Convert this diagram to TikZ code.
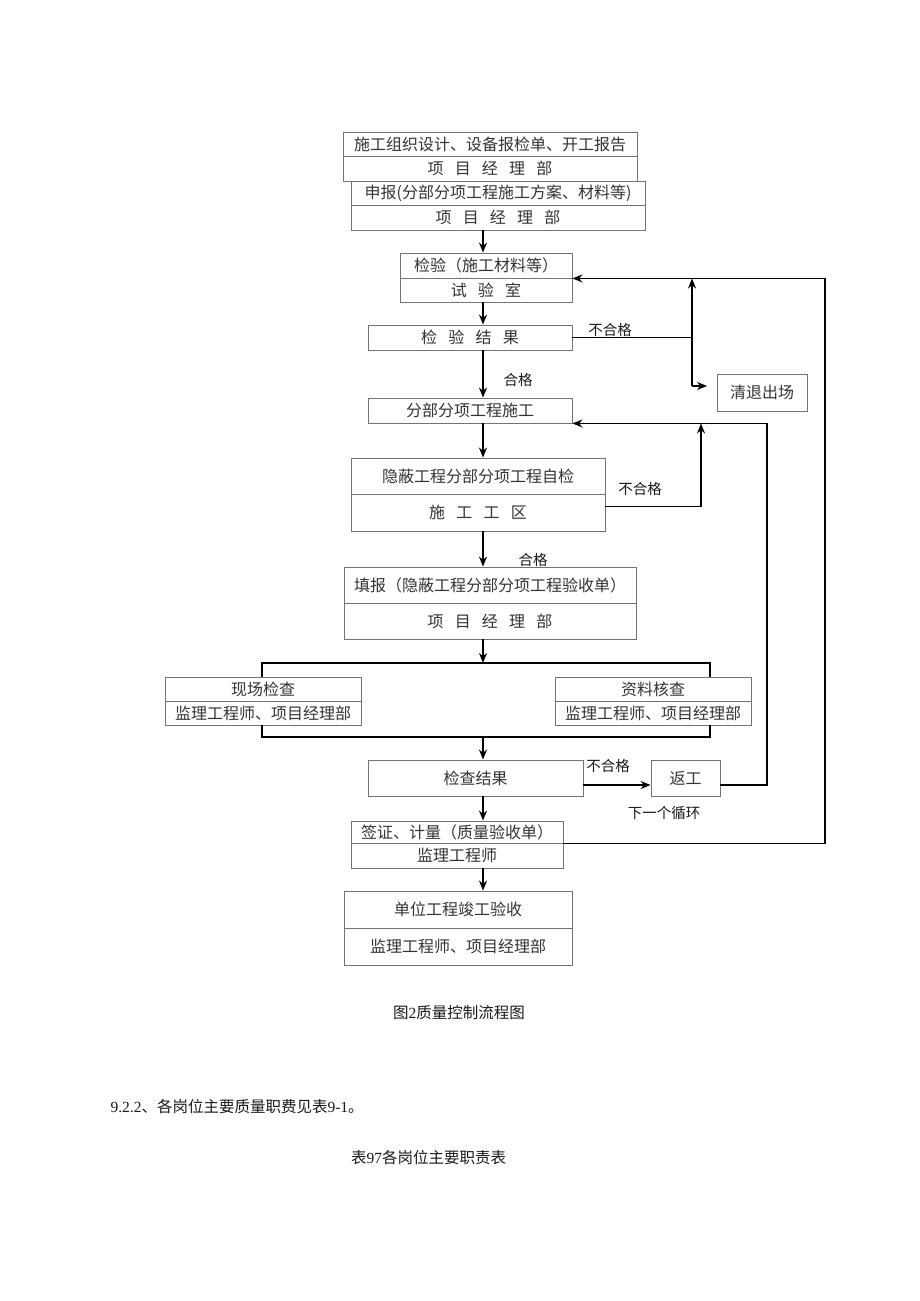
\documentclass[tikz,border=0pt]{standalone}
\usepackage{fontspec}
\setmainfont{Liberation Serif}
\newfontfamily\cjk{Noto Sans CJK SC}
\usetikzlibrary{arrows.meta}
\tikzset{
  cell/.style={draw=black!55, line width=0.9pt, text=black!80, font=\cjk\fontsize{16}{18}\selectfont, inner sep=0pt, anchor=center},
  flow/.style={line width=1.5pt, -{Stealth[length=10pt,width=8pt]}},
  link/.style={line width=1.5pt},
  tag/.style={font=\cjk\fontsize{14.5}{16}\selectfont, text=black!90},
  captxt/.style={font=\fontsize{15.5}{18}\selectfont, text=black!90},
}
\newcommand\gp{\hspace{0.7em}}

\begin{document}
\begin{tikzpicture}[x=1pt,y=-1pt]
\useasboundingbox (0,0) rectangle (920,1301);

% 上部框
\node[cell, minimum width=294pt, minimum height=24pt] (b1t) at (490,144) {施工组织设计、设备报检单、开工报告};
\node[cell, minimum width=294pt, minimum height=25pt] (b1b) at (490,168.5) {项\gp 目\gp 经\gp 理\gp 部};
\node[cell, minimum width=294pt, minimum height=24pt] (b2t) at (498,193) {申报(分部分项工程施工方案、材料等)};
\node[cell, minimum width=294pt, minimum height=25pt] (b2b) at (498,217.5) {项\gp 目\gp 经\gp 理\gp 部};
\node[cell, minimum width=172pt, minimum height=25pt] (b3t) at (486,265.5) {检验（施工材料等）};
\node[cell, minimum width=172pt, minimum height=24pt] (b3b) at (486,290) {试\gp 验\gp 室};
\node[cell, minimum width=204pt, minimum height=25pt] (b4) at (470,337.5) {检\gp 验\gp 结\gp 果};
\node[cell, minimum width=90pt, minimum height=37pt] (qt) at (762,392.5) {清退出场};
\node[cell, minimum width=204pt, minimum height=25pt] (b5) at (470,410.5) {分部分项工程施工};
\node[cell, minimum width=254pt, minimum height=36pt] (b6t) at (478,476) {隐蔽工程分部分项工程自检};
\node[cell, minimum width=254pt, minimum height=37pt] (b6b) at (478,512.5) {施\gp 工\gp 工\gp 区};
\node[cell, minimum width=292pt, minimum height=36pt] (b7t) at (490,585) {填报（隐蔽工程分部分项工程验收单）};
\node[cell, minimum width=292pt, minimum height=36pt] (b7b) at (490,621) {项\gp 目\gp 经\gp 理\gp 部};

% 检查
\node[cell, minimum width=196pt, minimum height=24pt] (xc1t) at (263,689) {现场检查};
\node[cell, minimum width=196pt, minimum height=24pt] (xc1b) at (263,713) {监理工程师、项目经理部};
\node[cell, minimum width=196pt, minimum height=24pt] (xc2t) at (653,689) {资料核查};
\node[cell, minimum width=196pt, minimum height=24pt] (xc2b) at (653,713) {监理工程师、项目经理部};
\node[cell, minimum width=215pt, minimum height=36pt] (jg) at (475.5,778) {检查结果};
\node[cell, minimum width=69pt, minimum height=36pt] (fg) at (685.5,778) {返工};
\node[cell, minimum width=212pt, minimum height=22pt] (qzt) at (457,832) {签证、计量（质量验收单）};
\node[cell, minimum width=212pt, minimum height=25pt] (qzb) at (457,855.5) {监理工程师};
\node[cell, minimum width=228pt, minimum height=37pt] (fint) at (458,909.5) {单位工程竣工验收};
\node[cell, minimum width=228pt, minimum height=37pt] (finb) at (458,946.5) {监理工程师、项目经理部};

% 辅助点
\coordinate (sp) at (483,0);
\coordinate (ua) at (692,0);
\coordinate (ub) at (701,0);
\coordinate (rb) at (767,0);
\coordinate (ra) at (825,0);
\coordinate (dl) at (262,0);
\coordinate (dr) at (710,0);
\coordinate (qin) at (707,386);
\coordinate (busT) at (483,663);
\coordinate (busB) at (483,737);

% 主线
\draw[flow] (b2b.south -| sp) -- (b3t.north -| sp);
\draw[flow] (b3b.south -| sp) -- (b4.north -| sp);
\draw[flow] (b4.south -| sp) -- (b5.north -| sp);
\draw[flow] (b5.south -| sp) -- (b6t.north -| sp);
\draw[flow] (b6b.south -| sp) -- (b7t.north -| sp);
\draw[flow] (b7b.south -| sp) -- (busT);
\draw[link] (xc1t.north -| dl) -- (busT -| dl) -- (busT -| dr) -- (xc2t.north -| dr);
\draw[link] (xc1b.south -| dl) -- (busB -| dl) -- (busB -| dr) -- (xc2b.south -| dr);
\draw[flow] (busB) -- (jg.north -| sp);
\draw[flow] (jg.south -| sp) -- (qzt.north -| sp);
\draw[flow] (qzb.south -| sp) -- (fint.north -| sp);

% 不合格回路
\draw[link] (b4.east) -- (b4.east -| ua);
\draw[flow] (qin -| ua) -- (b3t.south east -| ua);
\draw[flow] (qin -| ua) -- (qin);
\draw[flow] ([yshift=6pt]b6b.east) -- ([yshift=6pt]b6b.east -| ub) -- (b5.south east -| ub);
\draw[flow] ([yshift=-7pt]jg.east) -- ([yshift=-7pt]fg.west);
\draw[flow] ([yshift=-7pt]fg.east) -- ([yshift=-7pt]fg.east -| rb) -- (b5.south east -| rb) -- (b5.south east);
\draw[flow] (qzt.south east) -- (qzt.south east -| ra) -- (b3t.south east -| ra) -- (b3t.south east);

% 标注
\node[tag] (n1) at (610,330) {不合格};
\node[tag] (h1) at (518,380) {合格};
\node[tag] (n2) at (640,489) {不合格};
\node[tag] (h2) at (533,560) {合格};
\node[tag] (n3) at (608,766) {不合格};
\node[tag] (xh) at (664,813) {下一个循环};

% 图题
\node[captxt] (c1) at (459,1013) {{\cjk 图}2{\cjk 质量控制流程图}};
\node[captxt, anchor=west] (c2) at (107,1107) {9.2.2{\cjk 、各岗位主要质量职费见表}9-1{\cjk 。}};
\node[captxt] (c3) at (428.5,1158) {{\cjk 表}97{\cjk 各岗位主要职责表}};
\end{tikzpicture}
\end{document}
